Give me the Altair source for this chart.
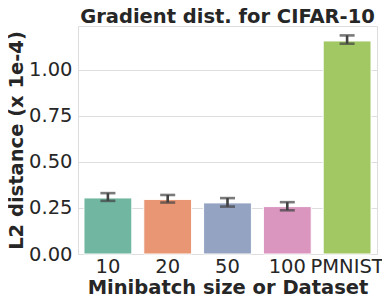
import altair as alt
import pandas as pd

categories = ["10", "20", "50", "100", "PMNIST"]
means = [0.304, 0.296, 0.277, 0.257, 1.155]
err_lo = [0.288, 0.279, 0.257, 0.237, 1.140]
err_hi = [0.330, 0.320, 0.303, 0.281, 1.185]
colors = ["#71b6a0", "#e99675", "#95a3c3", "#db96c0", "#a2c864"]

df = pd.DataFrame({"cat": categories, "mean": means, "lo": err_lo, "hi": err_hi})

FS = 19.5
x = alt.X("cat:N", sort=categories,
          scale=alt.Scale(paddingInner=0.2, paddingOuter=0.1),
          axis=alt.Axis(title="Minibatch size or Dataset", labelAngle=0,
                        labelFontSize=FS, labelColor="#262626", labelPadding=3,
                        titleFontSize=FS, titleFontWeight="bold", titleColor="#262626",
                        titlePadding=3, ticks=False, domain=False))
y_scale = alt.Scale(domain=[0, 1.236], nice=False)

bars = alt.Chart(df).mark_bar(stroke="white", strokeWidth=1).encode(
    x=x,
    y=alt.Y("mean:Q", scale=y_scale,
            axis=alt.Axis(title="L2 distance (x 1e-4)", values=[0, 0.25, 0.5, 0.75, 1.0],
                          format=".2f", labelFontSize=FS, labelColor="#262626",
                          labelPadding=6, titleFontSize=FS, titleFontWeight="bold",
                          titleColor="#262626", titlePadding=2, ticks=False,
                          domain=False, grid=True, gridColor="#dedede", gridWidth=1)),
    color=alt.Color("cat:N", sort=categories,
                    scale=alt.Scale(domain=categories, range=colors), legend=None),
)

rules = alt.Chart(df).mark_rule(color="#424242", strokeWidth=2.6).encode(
    x=alt.X("cat:N", sort=categories), y=alt.Y("lo:Q", scale=y_scale), y2="hi:Q")
cap_lo = alt.Chart(df).mark_tick(color="#424242", thickness=2.6, size=15, orient="horizontal").encode(
    x=alt.X("cat:N", sort=categories), y=alt.Y("lo:Q", scale=y_scale))
cap_hi = alt.Chart(df).mark_tick(color="#424242", thickness=2.6, size=15, orient="horizontal").encode(
    x=alt.X("cat:N", sort=categories), y=alt.Y("hi:Q", scale=y_scale))

chart = alt.layer(bars, rules, cap_lo, cap_hi).properties(
    width=299, height=228,
    title=alt.TitleParams("Gradient dist. for CIFAR-10", fontSize=FS, fontWeight="bold",
                          color="#262626", offset=0, dy=1, anchor="middle"),
    autosize=alt.AutoSizeParams(type="none"),
    padding={"left": 70, "top": 18, "right": 5, "bottom": 46},
).configure_view(stroke="#d6d6d6", strokeWidth=1).configure(
    font="DejaVu Sans", background="white")

chart.save("out.html", embed_options={"renderer": "svg", "actions": False})
